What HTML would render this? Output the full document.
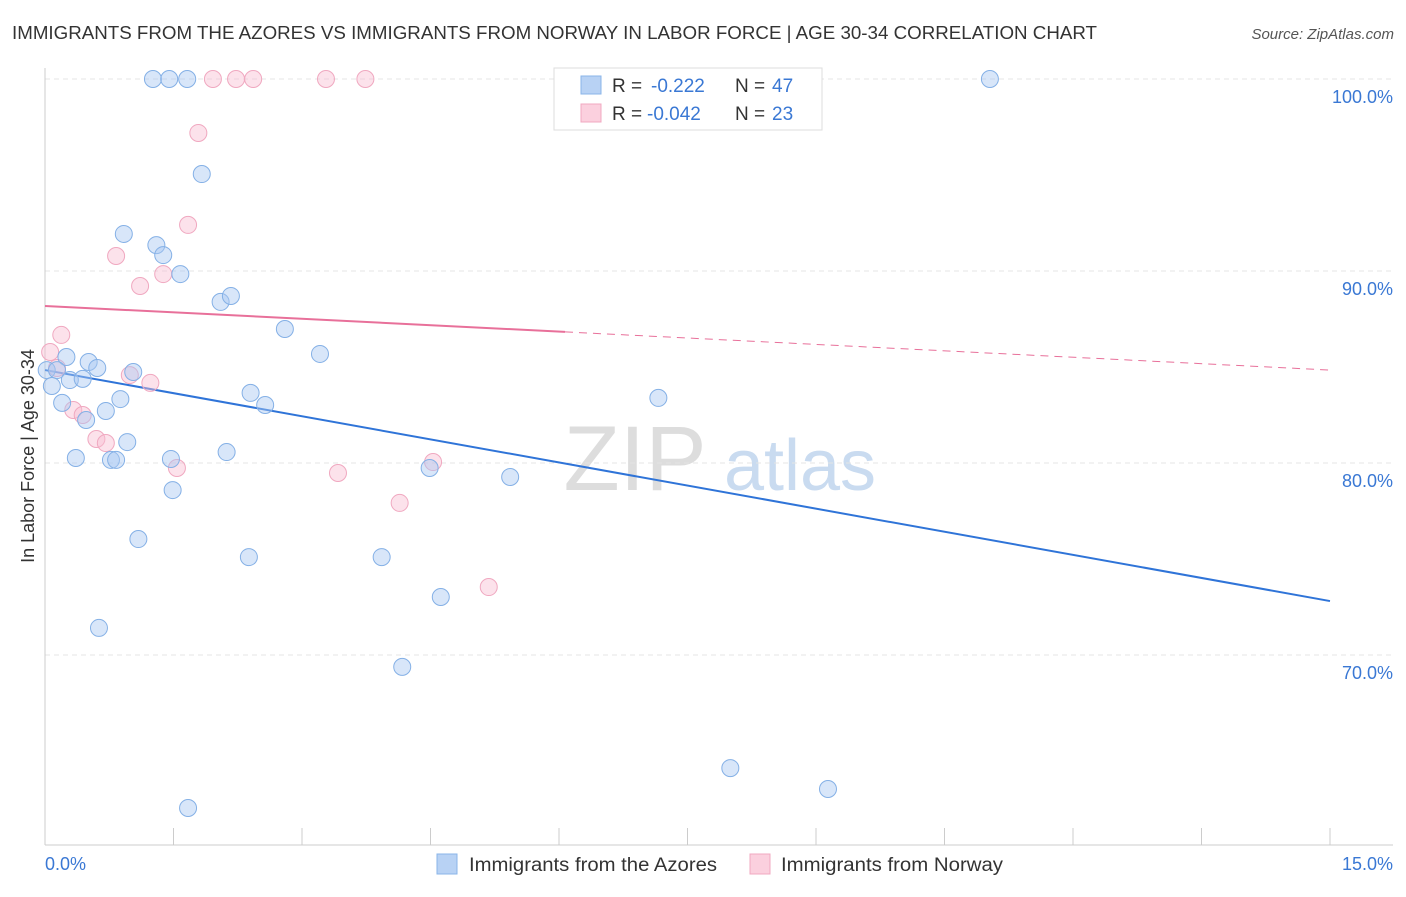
<!DOCTYPE html>
<html><head><meta charset="utf-8"><style>
body{margin:0;background:#fff;font-family:"Liberation Sans",sans-serif;}
svg text{font-family:"Liberation Sans",sans-serif;}
</style></head><body>
<svg id="chart" width="1406" height="892">
<text x="12" y="39" font-size="18" fill="#333" textLength="1085" lengthAdjust="spacingAndGlyphs">IMMIGRANTS FROM THE AZORES VS IMMIGRANTS FROM NORWAY IN LABOR FORCE | AGE 30-34 CORRELATION CHART</text>
<text x="1394" y="39" font-size="15" fill="#555" font-style="italic" text-anchor="end">Source: ZipAtlas.com</text>
<text x="34" y="456" font-size="18" fill="#333" text-anchor="middle" transform="rotate(-90 34 456)">In Labor Force | Age 30-34</text>
<g><text x="635" y="490" font-size="92" fill="#ddd" font-family="Liberation Serif" text-anchor="middle">ZIP</text><text x="800" y="490" font-size="72" fill="#c9dbf0" text-anchor="middle">atlas</text></g>
<g id="grid"></g><g id="axes"></g><g id="lines"></g><g id="pts"></g>
<g>
<rect x="554" y="68" width="268" height="62" fill="#fff" stroke="#ddd"/>
<rect x="581" y="76" width="20" height="18" fill="#b8d2f4" stroke="#8ab4e8"/>
<text x="612" y="92" font-size="19" fill="#333">R = </text><text x="651" y="92" font-size="19" fill="#3a78d4">-0.222</text>
<text x="735" y="92" font-size="19" fill="#333">N = </text><text x="772" y="92" font-size="19" fill="#3a78d4">47</text>
<rect x="581" y="104" width="20" height="18" fill="#fbd0de" stroke="#f0a8c0"/>
<text x="612" y="120" font-size="19" fill="#333">R = </text><text x="647" y="120" font-size="19" fill="#3a78d4">-0.042</text>
<text x="735" y="120" font-size="19" fill="#333">N = </text><text x="772" y="120" font-size="19" fill="#3a78d4">23</text>
</g>
<g>
<rect x="437" y="854" width="20" height="20" fill="#b8d2f4" stroke="#8ab4e8"/>
<text x="469" y="871" font-size="19" fill="#333" textLength="248" lengthAdjust="spacingAndGlyphs">Immigrants from the Azores</text>
<rect x="750" y="854" width="20" height="20" fill="#fbd0de" stroke="#f0a8c0"/>
<text x="781" y="871" font-size="19" fill="#333" textLength="222" lengthAdjust="spacingAndGlyphs">Immigrants from Norway</text>
</g>
</svg>
<script>
const xTicks=[0,1.5,3,4.5,6,7.5,9,10.5,12,13.5,15];
const yTicks=[70,80,90,100];
const yTickLabels=["70.0%","80.0%","90.0%","100.0%"];
const xEndLabels=["0.0%","15.0%"];
const azoresX=[1.26,1.45,1.66,11.03,1.83,0.92,1.30,1.38,1.58,2.05,2.17,2.80,3.21,0.25,0.51,0.61,1.03,0.02,0.14,0.29,0.44,0.08,0.20,0.88,0.71,0.48,2.40,2.57,7.16,0.96,0.36,0.77,0.83,1.47,2.12,4.49,5.43,1.49,1.09,2.38,3.93,4.62,0.63,4.17,8.00,9.14,1.67];
const azoresY=[100,100,100,100,95.05,91.93,91.35,90.83,89.84,88.39,88.70,86.98,85.68,85.52,85.26,84.95,84.74,84.84,84.84,84.32,84.38,84.01,83.13,83.33,82.71,82.24,83.65,83.02,83.39,81.09,80.26,80.16,80.16,80.21,80.57,79.74,79.27,78.59,76.04,75.10,75.10,73.02,71.41,69.38,64.11,63.02,62.03];
const norwayX=[1.96,2.23,2.43,3.28,3.74,1.79,1.67,0.83,1.11,1.38,0.19,0.06,0.14,0.99,1.23,0.33,0.44,0.60,0.71,1.54,3.42,4.53,4.14,5.18];
const norwayY=[100,100,100,100,100,97.19,92.40,90.78,89.22,89.84,86.67,85.78,84.95,84.58,84.17,82.76,82.50,81.25,81.04,79.74,79.48,80.05,77.92,73.54];
const azoresTrend=[84.84,72.81];
const norwayTrend=[88.18,84.84];
const norwaySolidEnd=6.07;

const NS="http://www.w3.org/2000/svg";
const X=v=>45+v*(1285/15);
const Y=v=>79+(100-v)*19.2;
function mk(p,tag,a){const e=document.createElementNS(NS,tag);for(const k in a)e.setAttribute(k,a[k]);p.appendChild(e);return e;}
const grid=document.getElementById('grid'),axes=document.getElementById('axes'),lines=document.getElementById('lines'),pts=document.getElementById('pts');
yTicks.forEach((t,i)=>{
 const l=mk(grid,'line',{x1:45,x2:1393,y1:Y(t),y2:Y(t),stroke:'#e4e4e4','stroke-dasharray':'5,4'});
 
 
 const tx=mk(axes,'text',{x:1393,y:Y(t)+24,'font-size':18,fill:'#3a78d4','text-anchor':'end'});
 tx.textContent=yTickLabels[i];
 
 
});
const ax=mk(axes,'line',{x1:45,x2:1393,y1:845,y2:845,stroke:'#ccc'});


const ay=mk(axes,'line',{x1:45,x2:45,y1:68,y2:845,stroke:'#ccc'});


xTicks.forEach(t=>{
 const l=mk(axes,'line',{x1:X(t),x2:X(t),y1:828,y2:845,stroke:'#ccc'});
 
 
});
[[0,'start',45],[15,'end',1393]].forEach((d,i)=>{
 const tx=mk(axes,'text',{x:d[2],y:870,'font-size':18,fill:'#3a78d4','text-anchor':d[1]});
 tx.textContent=xEndLabels[i];
 
 
});
function dot(x,y,f,s,n){
 const c=mk(pts,'circle',{cx:X(x),cy:Y(y),r:8.5,fill:f,stroke:s,'stroke-width':1});
 
 
}
norwayX.forEach((x,i)=>dot(x,norwayY[i],'rgba(248,190,210,0.45)','#f0a8c0','norway-point'));
azoresX.forEach((x,i)=>dot(x,azoresY[i],'rgba(168,200,242,0.45)','#84b0e6','azores-point'));
const bl=mk(lines,'line',{x1:X(0),y1:Y(azoresTrend[0]),x2:X(15),y2:Y(azoresTrend[1]),stroke:'#2f74d8','stroke-width':2});


const pm=norwayTrend[0]+(norwayTrend[1]-norwayTrend[0])*norwaySolidEnd/15;
const pl=mk(lines,'line',{x1:X(0),y1:Y(norwayTrend[0]),x2:X(norwaySolidEnd),y2:Y(pm),stroke:'#e8709a','stroke-width':2});


const pd=mk(lines,'line',{x1:X(norwaySolidEnd),y1:Y(pm),x2:X(15),y2:Y(norwayTrend[1]),stroke:'#e8709a','stroke-width':1,'stroke-dasharray':'8,6'});


</script>
</body></html>
